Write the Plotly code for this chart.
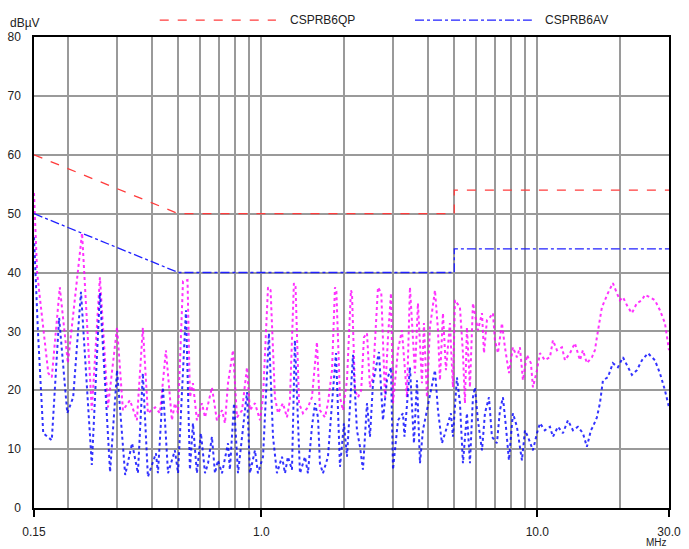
import plotly.graph_objects as go
import math

# ---------------- data ----------------
limit_qp_freq = [0.15, 0.5, 5.0, 5.0, 30.0]
limit_qp_level = [60, 50, 50, 54, 54]
limit_av_freq = [0.15, 0.5, 5.0, 5.0, 30.0]
limit_av_level = [50, 40, 40, 44, 44]

qp_freq = [0.150, 0.154, 0.169, 0.174, 0.186, 0.199, 0.224, 0.243, 0.260, 0.278,
           0.300, 0.315, 0.334, 0.354, 0.372, 0.388, 0.412, 0.429, 0.451, 0.474,
           0.486, 0.499, 0.520, 0.540, 0.551, 0.565, 0.584, 0.609, 0.625, 0.641,
           0.662, 0.690, 0.720, 0.738, 0.757, 0.789, 0.816, 0.851, 0.887, 0.909,
           0.948, 0.989, 1.014, 1.057, 1.080, 1.120, 1.149, 1.197, 1.238, 1.269,
           1.312, 1.330, 1.369, 1.415, 1.475, 1.525, 1.590, 1.630, 1.700, 1.743,
           1.803, 1.848, 1.870, 1.927, 1.976, 2.043, 2.112, 2.130, 2.184, 2.239,
           2.300, 2.354, 2.414, 2.475, 2.538, 2.646, 2.720, 2.805, 2.876, 2.949,
           2.999, 3.126, 3.231, 3.314, 3.369, 3.455, 3.602, 3.693, 3.819, 3.882,
           3.981, 4.082, 4.257, 4.365, 4.437, 4.550, 4.665, 4.823, 4.944, 5.028,
           5.243, 5.376, 5.466, 5.558, 5.699, 5.843, 5.991, 6.091, 6.302, 6.408,
           6.567, 6.733, 6.904, 7.021, 7.199, 7.443, 7.632, 7.890, 8.157, 8.435,
           8.649, 8.868, 9.169, 9.479, 9.640, 9.968, 10.22, 10.65, 11.11, 11.39,
           11.78, 12.28, 12.59, 13.13, 13.68, 14.27, 14.63, 15.12, 15.77, 16.17,
           16.44, 17.14, 18.02, 18.78, 19.42, 19.92, 20.43, 21.30, 22.02, 22.95,
           23.94, 24.54, 25.59, 26.67, 27.81, 29.00, 29.73, 30.0]
qp_level = [53.5, 39.9, 22.9, 22.2, 37.5, 24.6, 46.7, 16.6, 39.2, 17.1,
            30.7, 16.6, 18.3, 14.9, 30.6, 16.1, 17.1, 16.1, 26.8, 14.9,
            17.8, 16.1, 38.5, 38.7, 18.8, 21.2, 14.9, 17.8, 15.4, 17.8,
            20.5, 14.9, 16.6, 14.4, 21.2, 26.8, 15.4, 16.6, 23.9, 16.6,
            17.8, 14.9, 18.8, 37.5, 37.0, 18.8, 16.1, 17.8, 15.4, 18.3,
            38.2, 37.6, 17.8, 16.1, 17.1, 18.8, 28.2, 16.6, 15.4, 17.8,
            23.4, 37.5, 36.8, 18.8, 16.6, 21.7, 37.0, 36.4, 20.0, 18.8,
            20.0, 29.0, 29.7, 20.5, 22.2, 37.5, 36.5, 18.8, 29.0, 36.5,
            17.8, 26.8, 30.2, 23.4, 18.8, 37.5, 22.9, 34.8, 21.2, 31.4,
            18.8, 30.7, 37.0, 30.2, 21.7, 33.1, 23.4, 31.4, 20.5, 35.3,
            34.1, 26.3, 17.8, 30.7, 20.5, 34.8, 31.9, 30.2, 33.1, 26.3,
            31.9, 32.4, 33.1, 28.5, 26.3, 31.4, 27.3, 22.9, 27.3, 25.6,
            27.3, 21.7, 26.0, 24.6, 20.5, 23.4, 26.3, 25.1, 25.6, 28.5,
            26.8, 27.3, 25.1, 26.3, 28.0, 25.1, 26.8, 24.6, 25.6, 26.8,
            29.0, 34.1, 36.5, 38.2, 36.5, 35.3, 35.8, 34.1, 33.1, 34.8,
            35.3, 36.2, 35.8, 35.3, 33.6, 31.4, 28.0, 26.8]

av_freq = [0.150, 0.155, 0.162, 0.174, 0.185, 0.198, 0.208, 0.222, 0.243, 0.260,
           0.283, 0.300, 0.321, 0.340, 0.357, 0.372, 0.388, 0.415, 0.422, 0.440,
           0.459, 0.486, 0.499, 0.533, 0.551, 0.565, 0.584, 0.604, 0.625, 0.641,
           0.662, 0.679, 0.696, 0.720, 0.757, 0.769, 0.796, 0.823, 0.887, 0.909,
           0.948, 0.972, 1.014, 1.065, 1.102, 1.139, 1.188, 1.218, 1.248, 1.291,
           1.323, 1.380, 1.439, 1.475, 1.525, 1.565, 1.604, 1.630, 1.672, 1.743,
           1.803, 1.864, 1.927, 1.992, 2.043, 2.148, 2.220, 2.277, 2.334, 2.414,
           2.475, 2.538, 2.667, 2.758, 2.852, 2.949, 2.999, 3.126, 3.259, 3.300,
           3.455, 3.572, 3.663, 3.756, 3.850, 3.981, 4.082, 4.257, 4.365, 4.512,
           4.665, 4.863, 4.944, 5.113, 5.243, 5.376, 5.558, 5.699, 5.843, 5.942,
           6.091, 6.302, 6.460, 6.679, 6.847, 7.139, 7.320, 7.506, 7.695, 7.890,
           8.157, 8.435, 8.795, 9.018, 9.246, 9.640, 9.968, 10.22, 10.65, 11.11,
           11.39, 11.88, 12.38, 12.91, 13.46, 14.03, 14.63, 15.12, 15.64, 15.90,
           16.44, 16.86, 17.29, 18.02, 18.78, 19.59, 20.43, 21.30, 22.02, 22.95,
           23.94, 25.16, 26.67, 27.81, 29.00, 30.0]
av_level = [46.0, 30.0, 12.7, 11.5, 32.3, 16.1, 18.8, 36.7, 7.3, 36.5,
            6.1, 23.4, 5.6, 11.0, 5.9, 22.9, 5.3, 9.3, 5.9, 20.5,
            5.9, 9.8, 5.9, 33.6, 6.5, 14.4, 5.9, 12.7, 5.9, 7.6,
            12.1, 5.9, 8.1, 5.9, 11.0, 6.5, 17.8, 5.9, 19.7, 5.9,
            9.8, 5.9, 8.7, 29.7, 12.1, 5.9, 8.7, 5.9, 8.7, 6.5,
            28.5, 5.9, 8.7, 5.9, 13.8, 17.8, 15.4, 7.6, 5.9, 8.7,
            17.8, 26.3, 7.0, 14.4, 8.7, 26.0, 13.2, 10.4, 6.5, 17.8,
            12.1, 21.2, 26.5, 14.9, 21.7, 23.9, 6.5, 14.9, 16.1, 12.1,
            23.9, 11.0, 21.7, 7.6, 13.2, 16.6, 18.8, 23.4, 16.6, 11.0,
            13.2, 16.1, 12.1, 22.2, 17.8, 7.6, 16.1, 7.6, 18.8, 20.5,
            14.9, 9.8, 16.1, 18.8, 12.1, 11.0, 16.6, 18.8, 13.8, 8.1,
            16.1, 13.8, 8.1, 13.2, 12.1, 9.8, 12.7, 14.4, 13.2, 13.8,
            12.1, 13.8, 12.7, 14.9, 13.2, 13.8, 12.7, 10.4, 13.2, 13.8,
            15.4, 17.8, 21.7, 22.2, 24.6, 23.9, 25.6, 23.9, 22.6, 23.4,
            25.1, 26.3, 25.1, 22.9, 20.0, 17.1]

grid_freqs = [0.2, 0.3, 0.4, 0.5, 0.6, 0.7, 0.8, 0.9, 1, 2, 3, 4, 5, 6, 7, 8, 9, 10, 20]
label_freqs = [0.15, 1.0, 10.0, 30.0]
label_texts = ["0.15", "1.0", "10.0", "30.0"]
y_ticks = [0, 10, 20, 30, 40, 50, 60, 70, 80]

# ---------------- figure ----------------
FONT = "Liberation Sans, Arial, sans-serif"
fig = go.Figure()

fig.add_trace(go.Scatter(x=qp_freq, y=qp_level, mode="lines",
                         line=dict(color="#ff00ff", width=2, dash="dot"),
                         opacity=0.8, showlegend=False, hoverinfo="skip"))
fig.add_trace(go.Scatter(x=av_freq, y=av_level, mode="lines",
                         line=dict(color="#0000ff", width=2, dash="dot"),
                         opacity=0.8, showlegend=False, hoverinfo="skip"))
fig.add_trace(go.Scatter(x=limit_qp_freq, y=limit_qp_level, mode="lines",
                         line=dict(color="#ff3c3c", width=1.3, dash="dash"),
                         showlegend=False, hoverinfo="skip"))
fig.add_trace(go.Scatter(x=limit_av_freq, y=limit_av_level, mode="lines",
                         line=dict(color="#2020ff", width=1.3, dash="dashdot"),
                         showlegend=False, hoverinfo="skip"))
# invisible trace to anchor labelled tick axis
fig.add_trace(go.Scatter(x=[0.15, 30], y=[0, 0], xaxis="x2", mode="markers",
                         marker=dict(opacity=0), showlegend=False, hoverinfo="skip"))

xr = [math.log10(0.15), math.log10(30)]
fig.update_layout(
    width=689, height=549,
    margin=dict(l=34, r=20, t=37, b=41, autoexpand=False),
    paper_bgcolor="white", plot_bgcolor="white",
    font=dict(family=FONT, size=11, color="#222"),
    xaxis=dict(type="log", range=xr, tickvals=grid_freqs, showticklabels=False,
               showgrid=True, gridcolor="#9a9a9a", gridwidth=1.5, ticks="",
               showline=True, linecolor="black", linewidth=1.5, mirror=True,
               zeroline=False, automargin=False),
    xaxis2=dict(type="log", range=xr, overlaying="x", anchor="y", side="bottom",
                tickvals=label_freqs, ticktext=label_texts, showgrid=False,
                ticks="outside", ticklen=8, tickcolor="black", tickwidth=1.5,
                ticklabelstandoff=5,
                tickfont=dict(family=FONT, size=12, color="#222"),
                showline=False, zeroline=False, automargin=False),
    yaxis=dict(range=[0, 80], tickvals=y_ticks, showgrid=True, gridcolor="#9a9a9a",
               gridwidth=1.5, ticks="outside", ticklen=9, tickcolor="rgba(0,0,0,0)",
               showline=True, linecolor="black", linewidth=1.5, mirror=True,
               zeroline=False, automargin=False,
               tickfont=dict(family=FONT, size=12, color="#222")),
)

# legend (custom, drawn in paper space)
fig.add_shape(type="line", xref="paper", yref="paper", x0=0.198, x1=0.381, y0=1.036, y1=1.036,
              line=dict(color="#ff3c3c", width=1.3, dash="dash"))
fig.add_shape(type="line", xref="paper", yref="paper", x0=0.6, x1=0.784, y0=1.036, y1=1.036,
              line=dict(color="#2020ff", width=1.3, dash="dashdot"))
fig.add_annotation(xref="paper", yref="paper", x=0.4, y=1.036, text="CSPRB6QP",
                   showarrow=False, xanchor="left", yanchor="middle",
                   font=dict(family=FONT, size=12, color="#222"))
fig.add_annotation(xref="paper", yref="paper", x=0.8016, y=1.036, text="CSPRB6AV",
                   showarrow=False, xanchor="left", yanchor="middle",
                   font=dict(family=FONT, size=12, color="#222"))
fig.add_annotation(xref="paper", yref="paper", x=-0.041, y=1.03, text="dBµV",
                   showarrow=False, xanchor="left", yanchor="middle",
                   font=dict(family=FONT, size=12, color="#222"))
fig.add_annotation(xref="paper", yref="paper", x=0.98, y=-0.074, text="MHz",
                   showarrow=False, xanchor="center", yanchor="middle",
                   font=dict(family=FONT, size=10, color="#222"))

fig.write_html("out.html", config={"displayModeBar": False},
               post_script="document.body.style.margin='0px';document.body.style.overflow='hidden';")
